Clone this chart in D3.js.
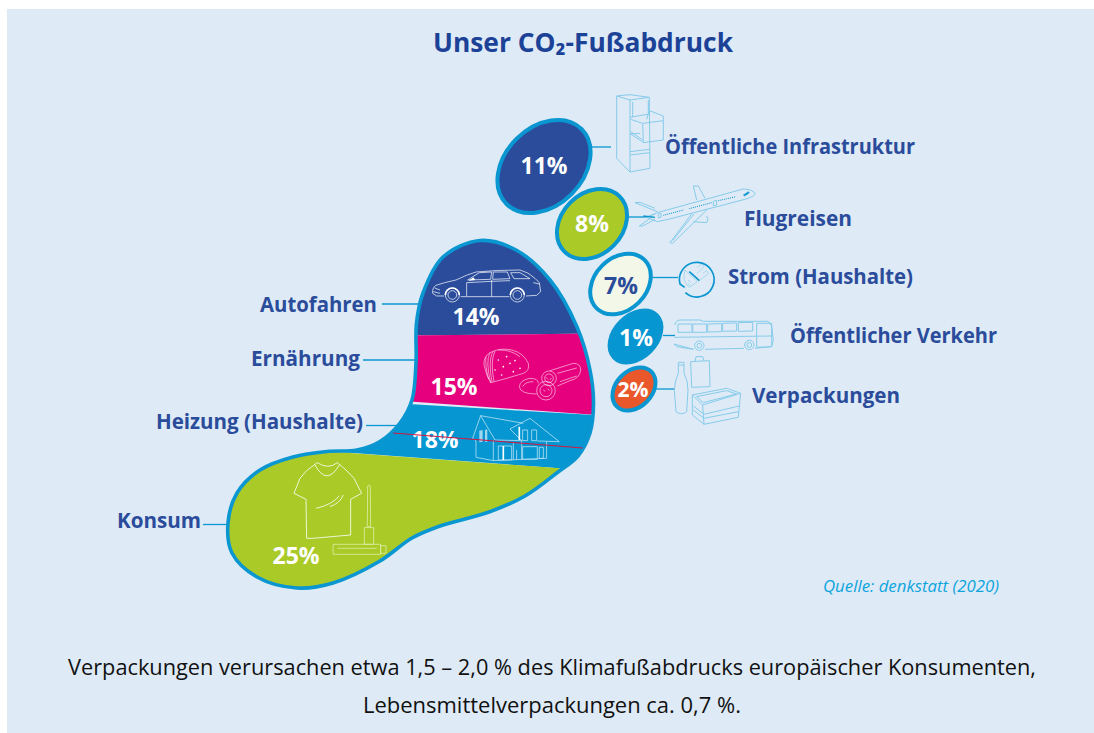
<!DOCTYPE html>
<html lang="de">
<head>
<meta charset="utf-8">
<title>Unser CO2-Fußabdruck</title>
<script src="https://cdn.jsdelivr.net/npm/d3@7"></script>
<style>
  body { margin: 0; background: #fff; }
  svg { display: block; }
  text { font-family: "Open Sans", sans-serif; }
</style>
</head>
<body>
<svg id="chart" width="1094" height="733"></svg>
<script>
// values
var toeLabels = ["Öffentliche Infrastruktur", "Flugreisen", "Strom (Haushalte)", "Öffentlicher Verkehr", "Verpackungen"];
var toeValues = [11, 8, 7, 1, 2];
var soleLabels = ["Autofahren", "Ernährung", "Heizung (Haushalte)", "Konsum"];
var soleValues = [14, 15, 18, 25];

var navy = "#2a4c9b", magenta = "#e6007e", blue = "#0696d2", green = "#aaca27",
    cream = "#f3f7e8", orange = "#e9572b", rim = "#0a96d0", iconBlue = "#86cbea";

// layout of the illustration, not data
var toeLayout = [
  {cx: 544, cy: 166.5, a: 53, b: 39, fill: navy, text: "#fff", lx: 665, lw: 250, ly: 154, tx: 544, ty: 174, fs: 23, line: [592, 147, 611, 147]},
  {cx: 592, cy: 224, a: 39, b: 30.5, fill: green, text: "#fff", lx: 744, lw: 108, ly: 225.5, tx: 592, ty: 232, fs: 23, line: [629, 217, 647, 217]},
  {cx: 620.5, cy: 284, a: 34, b: 26, fill: cream, text: navy, lx: 728, lw: 185, ly: 284, tx: 621, ty: 294, fs: 23, line: [652, 277.5, 678, 277.5]},
  {cx: 635.5, cy: 336.5, a: 30, b: 21, fill: blue, text: "#fff", lx: 790, lw: 207, ly: 342.5, tx: 636, ty: 346, fs: 23, line: [663, 335.5, 675, 335.5]},
  {cx: 634, cy: 389, a: 24.5, b: 18, fill: orange, text: "#fff", lx: 752, lw: 148, ly: 403, tx: 633, ty: 397, fs: 21, line: [656, 389, 675, 389]}
];

var soleLayout = [
  {fill: navy, lx: 260, lw: 117, ly: 312, tx: 476, ty: 325, band: [[400, 230], [610, 230], [610, 333.3], [400, 335.6]], line: [382, 304, 418, 304]},
  {fill: magenta, lx: 251, lw: 109, ly: 366, tx: 454, ty: 395, band: [[400, 335.6], [610, 333.3], [610, 416], [400, 400.8]], line: [363, 360, 417, 360]},
  {fill: blue, lx: 156, lw: 207, ly: 429, tx: 435, ty: 448, band: [[340, 400], [610, 416], [610, 472], [340, 452]], line: [366, 425.5, 398, 425.5]},
  {fill: green, lx: 117, lw: 84, ly: 528, tx: 296, ty: 564, band: [[200, 442], [610, 472], [610, 600], [200, 600]], line: [203, 524.5, 228, 524.5]}
];

var footOutline = [
  [480, 240.5], [516, 250], [550, 280], [577, 327], [590, 370], [593.5, 403], [590, 433],
  [578, 456], [558, 472], [525, 496], [489, 512], [440, 526], [412, 538], [380, 561],
  [333, 583], [297, 588], [257, 577], [232, 553], [228, 523], [237, 493], [260, 470],
  [293, 457], [327, 451.5], [357, 450], [380, 441.5], [400, 423], [412, 400], [416, 363],
  [416.5, 323], [423, 293], [443, 257]
];

var svg = d3.select("#chart");

svg.append("rect").attr("x", 7).attr("y", 9).attr("width", 1087).attr("height", 724).attr("fill", "#deeaf6");

// text squeezed to the measured width, the original face is narrower than Open Sans
function label(parent, str, x, y, w, size, weight, color, style) {
  return parent.append("text")
    .attr("x", x).attr("y", y)
    .attr("textLength", w).attr("lengthAdjust", "spacingAndGlyphs")
    .attr("font-size", size).attr("font-weight", weight)
    .attr("font-style", style || "normal")
    .attr("fill", color)
    .text(str);
}

// title
label(svg, "Unser CO₂-Fußabdruck", 433, 52, 300, 27, 700, "#1b4297");

// connector lines, behind everything
var connectors = svg.append("g").attr("stroke", rim).attr("stroke-width", 1.3);
toeLayout.concat(soleLayout).forEach(function(d) {
  connectors.append("line").attr("x1", d.line[0]).attr("y1", d.line[1]).attr("x2", d.line[2]).attr("y2", d.line[3]);
});

// sole
var footPath = d3.line().curve(d3.curveCatmullRomClosed.alpha(0.5))(footOutline);
svg.append("clipPath").attr("id", "footClip").append("path").attr("d", footPath);

var bands = svg.append("g").attr("clip-path", "url(#footClip)");
bands.selectAll("path")
  .data(soleValues)
  .enter().append("path")
  .attr("fill", function(d, i) { return soleLayout[i].fill; })
  .attr("d", function(d, i) { return d3.line()(soleLayout[i].band) + "Z"; });

svg.append("path").attr("d", footPath).attr("fill", "none").attr("stroke", rim).attr("stroke-width", 3.6);

// toes
var toes = svg.append("g").selectAll("g")
  .data(toeValues)
  .enter().append("g");

toes.append("ellipse")
  .attr("transform", function(d, i) { var t = toeLayout[i]; return "translate(" + t.cx + "," + t.cy + ") rotate(-45)"; })
  .attr("rx", function(d, i) { return toeLayout[i].a; })
  .attr("ry", function(d, i) { return toeLayout[i].b; })
  .attr("fill", function(d, i) { return toeLayout[i].fill; })
  .attr("stroke", rim).attr("stroke-width", 4);

function icon(ox, oy, paths, color, width) {
  var g = svg.append("g").attr("transform", "translate(" + ox + "," + oy + ") scale(0.3333)")
    .attr("fill", "none").attr("stroke", color || iconBlue).attr("stroke-linejoin", "round");
  g.selectAll("path").data(paths).enter().append("path")
    .attr("d", function(d) { return d; })
    .attr("stroke-width", (width || 1) * 3);
  return g;
}

// car
var car = icon(420, 260, [
  "M38,100 Q36,84 48,76 Q70,68 108,60 Q140,44 168,36 Q230,30 300,30 Q325,36 345,55 L358,68 L362,95 L350,106 L318,108",
  "M268,110 L122,110 M72,108 L50,108 L38,100",
  "M143,60 L178,38 L215,36 L212,58 Z M220,36 L262,36 L270,56 L218,58 Z M272,38 L300,38 L330,56 L282,56 Z",
  "M140,68 L140,108 M215,60 L215,110 M140,68 L215,64 L270,62 M340,68 L358,72 M40,95 L60,100 M44,84 L60,90",
  "M76,105 a21,21 0 1 1 42,0 a21,21 0 1 1 -42,0 M84,105 a13,13 0 1 1 26,0 a13,13 0 1 1 -26,0",
  "M271,105 a21,21 0 1 1 42,0 a21,21 0 1 1 -42,0 M279,105 a13,13 0 1 1 26,0 a13,13 0 1 1 -26,0"
], "#fff", 0.7);
car.append("path").attr("d", "M146,62 L160,52 L166,60 Z").attr("fill", "#fff").attr("stroke", "none");
car.append("path").attr("d", "M76,105 a21,21 0 0 1 42,0 M271,105 a21,21 0 0 1 42,0").attr("stroke", "#fff").attr("stroke-width", 5);

// bread and sausage
var bread = icon(470, 340, [
  "M42,75 Q40,50 60,38 Q90,22 125,30 Q160,38 175,70 Q180,92 160,100 L110,115 L62,128 Q50,110 42,75 Z",
  "M60,38 Q46,62 62,128 M68,35 Q54,65 66,126 M75,33 Q60,65 72,124 M48,50 Q45,80 56,118 M85,30 Q120,28 150,50",
  "M240,92 L310,70 Q332,70 332,90 Q330,115 300,122 L262,138",
  "M215,115 a22,22 0 1 1 44,0 a22,22 0 1 1 -44,0 M224,115 a13,13 0 1 1 26,0 a13,13 0 1 1 -26,0",
  "M200,152 a28,28 0 1 1 56,0 a28,28 0 1 1 -56,0 M210,152 a18,18 0 1 1 36,0 a18,18 0 1 1 -36,0",
  "M148,140 Q150,120 180,115 Q205,115 205,130 M148,140 Q150,162 200,162 M158,140 Q165,125 190,125",
  "M262,100 L320,84 M270,125 L320,108 M220,150 L226,154 M234,146 L238,152 M228,112 L234,118 M240,120 L244,114"
], "#fff", 0.55);
bread.selectAll("circle")
  .data([[85, 60], [100, 80], [120, 70], [135, 62], [75, 90], [95, 105], [130, 95], [150, 85], [110, 50]])
  .enter().append("circle")
  .attr("cx", function(d) { return d[0]; }).attr("cy", function(d) { return d[1]; })
  .attr("r", 2.5).attr("fill", "#fff").attr("stroke", "none");

// house
var house = icon(200, 230, [
  "M818,625 L842,557 L970,580 M842,557 L885,630 L965,632",
  "M818,625 L828,632 L828,682 L880,692 L1040,685 L1040,635 M880,630 L880,692",
  "M930,597 L990,565 L1078,635 L1012,633 M930,597 L965,632 L965,690",
  "M895,648 L935,648 L935,690 L895,690 Z M968,600 L983,600 L983,632 L968,632 Z M995,600 L1010,600 L1010,632 L995,632 Z",
  "M968,650 L1012,650 L1012,688 L968,688 Z M1018,652 L1030,652 L1030,685 L1018,685 Z M940,638 L940,690 M950,660 L950,690"
], "#b9e2f4", 0.8);
house.append("path").attr("d", "M838,602 L848,600 L848,635 L838,637 Z M855,600 L862,598 L862,635 L855,636 Z").attr("fill", "#9cd6ef").attr("stroke", "none");
house.append("path").attr("d", "M910,648 L910,690 M958,590 L958,630").attr("stroke", "#fff").attr("stroke-width", 5);

// shirt and mascara
icon(200, 230, [
  "M352,698 L320,722 L300,745 L282,790 L318,808 L320,925 L340,925 L452,915 L452,808 L485,790 L462,745 L438,720 L412,698 Q385,720 352,698",
  "M345,705 Q380,770 418,705 M348,835 Q395,825 418,798 M390,830 Q420,820 430,795"
], "#fff", 0.8);
icon(200, 230, [
  "M503,768 L507,765 L511,768 L512,890 L502,890 Z M493,893 L521,893 L521,943 L493,943 Z",
  "M400,943 L542,943 L542,973 L400,973 Q398,958 400,943 Z M542,947 L558,947 L558,970 L542,970 Z M412,955 L530,955"
], "#dff0a8", 0.8);

// filing cabinet
icon(600, 90, [
  "M50,18 L90,14 L148,22 L150,235 L90,246 L50,205 Z M50,18 L90,30 L148,22 M90,30 L90,246",
  "M90,82 L148,72 M90,132 L120,130 M90,185 L150,178 M90,195 L150,188 M98,36 L98,82 M145,30 L145,72",
  "M128,100 L190,92 L190,150 L130,158 Z M128,100 L92,88 M140,88 L148,62 L190,78 L190,92 M92,125 L128,150 M92,132 L128,156"
]);

// plane
var plane = icon(600, 90, [
  "M172,368 L430,297 Q460,298 466,312 Q460,322 420,332 L205,388 L172,395 L140,382 L172,368",
  "M172,365 L105,338 L120,337 L165,355 M135,382 L165,372 M160,378 L118,408 L128,408 L165,388",
  "M290,330 L280,288 L295,288 L315,325",
  "M275,372 L210,458 L218,460 L322,358 M282,372 L218,452 M280,395 L320,398 Q328,390 320,378",
  "M175,372 L183,370 L183,382 L175,384 Z M340,334 L350,331 L350,345 L340,347 Z"
]);
plane.append("path").attr("d", "M190,376 L250,360 M268,356 L335,338 M355,332 L408,320").attr("stroke-width", 3).attr("stroke-dasharray", "3 3").attr("stroke", rim);
plane.append("path").attr("d", "M430,315 L445,305 L448,309 L434,318 Z").attr("fill", rim).attr("stroke", rim).attr("stroke-width", 1.5);
plane.append("path").attr("d", "M130,378 L165,382").attr("stroke", rim).attr("stroke-width", 4);

// plug
var plug = icon(660, 250, [
  "M75,60 L112,95 L88,112 Q72,100 72,78 Z M112,52 L125,42 L132,50 L112,70 M128,70 L140,62 L146,70 L118,92",
  "M85,90 L92,98 M84,100 L90,108"
], "#a8d8ee", 1);
plug.append("path").attr("d", "M88,65 L118,92").attr("stroke", rim).attr("stroke-width", 5);
plug.append("path").attr("d", "M76,128 A52,52 0 1 0 60,102 L74,112").attr("stroke", rim).attr("stroke-width", 5);

// bus
icon(660, 250, [
  "M45,225 Q45,212 60,210 L120,210 L130,214 L325,214 L335,228 L340,270 L335,290 L285,295 M252,295 L135,298 M100,298 L50,290 L42,282 Z",
  "M54,222 L96,222 L96,247 L54,247 Z M98,222 L140,222 L140,247 L98,247 Z M143,222 L185,221 L185,245 L143,246 Z M188,220 L230,219 L230,243 L188,244 Z M235,218 L278,217 L278,243 L235,244 Z",
  "M290,220 L335,220 L335,290 L290,292 Z M42,262 L335,258",
  "M104,287 a14,14 0 1 1 28,0 a14,14 0 1 1 -28,0 M111,287 a7,7 0 1 1 14,0 a7,7 0 1 1 -14,0",
  "M254,285 a14,14 0 1 1 28,0 a14,14 0 1 1 -28,0 M261,285 a7,7 0 1 1 14,0 a7,7 0 1 1 -14,0"
]);

// bottle and bag
icon(660, 250, [
  "M55,337 L72,337 L72,370 Q84,390 84,420 L80,485 Q65,498 48,485 L43,420 Q45,390 55,370 Z M55,345 L72,345",
  "M92,335 L148,332 L150,410 L95,412 Z M105,335 L108,320 L128,320 L132,333"
]);
// crate
icon(480, 80, [
  "M637,945 L740,925 L782,940 L668,975 Z M637,945 L637,1005 L672,1033 L775,1012 L782,940 M668,975 L672,1033",
  "M640,978 L672,1003 L778,978 M640,990 L672,1015 L776,995 M650,950 L740,932 L770,942 L670,968 Z"
]);

// percent labels on top of the icons
svg.append("g").selectAll("text")
  .data(toeValues)
  .enter().append("text")
  .attr("x", function(d, i) { return toeLayout[i].tx; })
  .attr("y", function(d, i) { return toeLayout[i].ty; })
  .attr("text-anchor", "middle")
  .attr("font-size", function(d, i) { return toeLayout[i].fs; })
  .attr("font-weight", 700)
  .attr("fill", function(d, i) { return toeLayout[i].text; })
  .text(function(d) { return d + "%"; });

svg.append("g").selectAll("text")
  .data(soleValues)
  .enter().append("text")
  .attr("x", function(d, i) { return soleLayout[i].tx; })
  .attr("y", function(d, i) { return soleLayout[i].ty; })
  .attr("text-anchor", "middle")
  .attr("font-size", 23).attr("font-weight", 700).attr("fill", "#fff")
  .text(function(d) { return d + "%"; });

// stray red hairline from the original, runs through the 18%
svg.append("line").attr("x1", 393.3).attr("y1", 433).attr("x2", 582.7).attr("y2", 448)
  .attr("stroke", "#d5163f").attr("stroke-width", 1);

// category labels
toeLabels.forEach(function(s, i) {
  var t = toeLayout[i];
  label(svg, s, t.lx, t.ly, t.lw, 21, 700, navy);
});
soleLabels.forEach(function(s, i) {
  var t = soleLayout[i];
  label(svg, s, t.lx, t.ly, t.lw, 21, 700, navy);
});

label(svg, "Quelle: denkstatt (2020)", 823, 592, 176, 16, 400, "#0ea5de", "italic");
label(svg, "Verpackungen verursachen etwa 1,5 – 2,0 % des Klimafußabdrucks europäischer Konsumenten,", 68, 675, 968, 21, 400, "#111");
label(svg, "Lebensmittelverpackungen ca. 0,7 %.", 363, 713, 378, 21, 400, "#111");
</script>
</body>
</html>
